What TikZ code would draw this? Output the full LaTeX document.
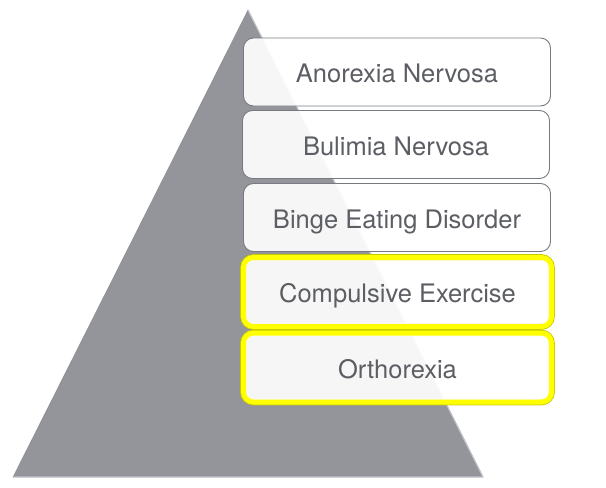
\documentclass[tikz,border=0pt]{standalone}
\usepackage{fontspec}
\setmainfont{TeX Gyre Heros}
\definecolor{trigray}{RGB}{148,149,154}
\definecolor{triedge}{RGB}{190,194,202}
\definecolor{boxedge}{RGB}{120,122,130}
\definecolor{txtgray}{RGB}{92,94,99}
\definecolor{hiyellow}{RGB}{255,255,0}
\definecolor{hidark}{RGB}{200,200,0}
\tikzset{
  tier/.style={draw=boxedge, line width=0.9pt, fill=white, fill opacity=0.92, text opacity=1,
    rounded corners=10pt, minimum width=307pt, minimum height=68pt,
    text=txtgray, font=\fontsize{25.5}{29}\selectfont, inner sep=0pt,
    text height=23pt, text depth=2pt},
  hitier/.style={tier, draw=hiyellow, line width=5pt, minimum width=308pt, minimum height=69pt,
    preaction={draw=hidark, line width=6.6pt}}
}
\begin{document}
\begin{tikzpicture}[x=1pt,y=-1pt]
\useasboundingbox (0,0) rectangle (606,488);
% pyramid
\coordinate (apex) at (248,10);
\coordinate (bl) at (13,477);
\coordinate (br) at (483,477);
\fill[trigray] (apex) -- (br) -- (bl) -- cycle;
\draw[triedge, line width=1.2pt, line join=round] (apex) -- (br) -- (bl);
\draw[trigray!80!black, line width=0.6pt, opacity=0.5] (bl) -- (apex);
% tiers
\node[tier] (t1) at (397,72) {Anorexia Nervosa};
\node[tier] (t2) at (396,144.5) {Bulimia Nervosa};
\node[tier] (t3) at (397,217.5) {Binge Eating Disorder};
\node[hitier] (t4) at (397.5,292) {Compulsive Exercise};
\node[hitier] (t5) at (397.5,367.5) {Orthorexia};
\end{tikzpicture}
\end{document}
